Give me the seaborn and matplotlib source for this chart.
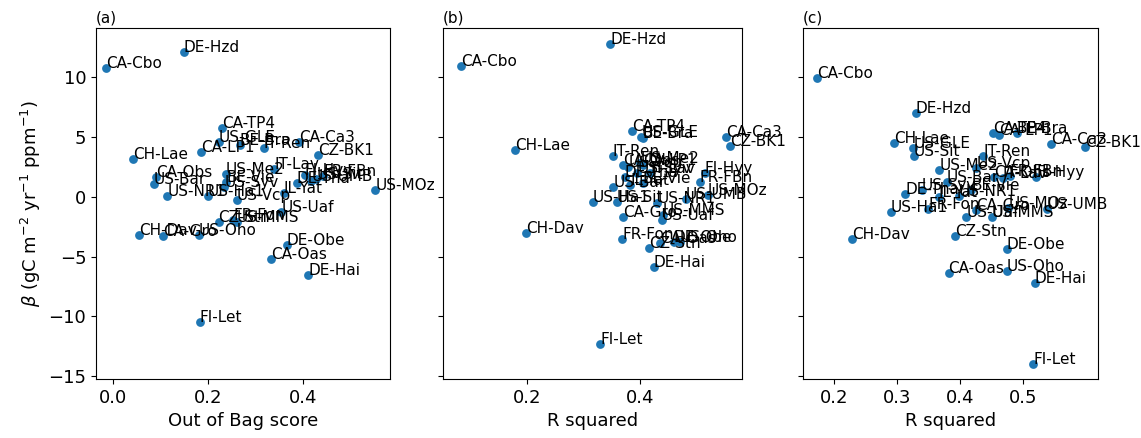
import numpy as np
import pandas as pd
import matplotlib
matplotlib.use("Agg")
import matplotlib.pyplot as plt
import seaborn as sns

sites = ["CA-Cbo", "DE-Hzd", "CA-TP4", "US-GLE", "BE-Bra", "IT-Ren", "CA-Ca3",
         "CZ-BK1", "CA-LP1", "CH-Lae", "CA-Obs", "US-Bar", "US-NR1", "US-Me2",
         "IT-Lav", "FI-Hyy", "FR-FBn", "DE-Tha", "US-UMB", "US-Sit", "BE-Vie",
         "US-Syv", "US-Ha1", "US-Vcp", "IL-Yat", "US-MOz", "US-Uaf", "CZ-Stn",
         "FR-Fon", "US-MMS", "CH-Dav", "CA-Gro", "US-Oho", "DE-Obe", "CA-Oas",
         "DE-Hai", "FI-Let"]

# (a) random forest out-of-bag score vs beta
oob_score = [-0.015, 0.149, 0.229, 0.222, 0.267, 0.317, 0.392,
             0.432, 0.185, 0.042, 0.090, 0.086, 0.114, 0.237,
             0.339, 0.404, 0.442, 0.387, 0.417, 0.428, 0.238,
             0.234, 0.199, 0.260, 0.359, 0.552, 0.354, 0.222,
             0.253, 0.260, 0.055, 0.106, 0.180, 0.366, 0.333,
             0.411, 0.182]
beta_a = [10.77, 12.16, 5.75, 4.57, 4.35, 4.07, 4.58,
          3.51, 3.77, 3.21, 1.70, 1.06, 0.08, 1.92,
          2.32, 1.84, 1.76, 1.17, 1.34, 1.50, 1.26,
          0.84, 0.08, -0.25, 0.31, 0.59, -1.23, -2.12,
          -1.90, -2.10, -3.18, -3.26, -3.18, -4.02, -5.19,
          -6.53, -10.49]

# (b) R squared vs beta
r2_b = [0.083, 0.347, 0.385, 0.402, 0.404, 0.351, 0.552,
        0.559, 0.405, 0.179, 0.370, 0.352, 0.430, 0.400,
        0.418, 0.514, 0.505, 0.373, 0.481, 0.359, 0.404,
        0.395, 0.316, 0.379, 0.382, 0.520, 0.438, 0.415,
        0.368, 0.440, 0.198, 0.370, 0.470, 0.459, 0.435,
        0.424, 0.329]
beta_b = [10.96, 12.80, 5.55, 5.05, 4.90, 3.43, 5.05,
          4.30, 2.68, 3.93, 2.68, 0.84, -0.50, 2.85,
          2.00, 1.98, 1.28, 1.67, -0.20, -0.42, 1.17,
          2.00, -0.39, 2.51, 1.00, 0.17, -1.92, -4.30,
          -3.51, -1.50, -3.04, -1.70, -3.74, -3.74, -3.82,
          -5.83, -12.33]

# (c) R squared vs beta
r2_c = [0.173, 0.330, 0.452, 0.326, 0.490, 0.437, 0.544,
        0.599, 0.462, 0.295, 0.454, 0.379, 0.398, 0.367,
        0.468, 0.521, 0.479, 0.313, 0.538, 0.327, 0.418,
        0.339, 0.290, 0.426, 0.366, 0.477, 0.410, 0.392,
        0.350, 0.451, 0.229, 0.426, 0.474, 0.474, 0.382,
        0.519, 0.516]
beta_c = [9.98, 7.05, 5.33, 4.07, 5.33, 3.46, 4.44,
          4.21, 5.19, 4.55, 1.70, 1.28, 0.08, 2.26,
          1.55, 1.70, 1.75, 0.22, -1.03, 3.46, 0.59,
          0.59, -1.28, 2.40, 0.03, -0.95, -1.70, -3.26,
          -1.00, -1.70, -3.51, -1.09, -6.17, -4.35, -6.39,
          -7.17, -13.97]

panels = [
    ("(a)", "Out of Bag score", oob_score, beta_a, (-0.036, 0.583), [0.0, 0.2, 0.4]),
    ("(b)", "R squared", r2_b, beta_b, (0.051, 0.580), [0.2, 0.4]),
    ("(c)", "R squared", r2_c, beta_c, (0.151, 0.619), [0.2, 0.3, 0.4, 0.5]),
]

W, H = 1141, 438
fig = plt.figure(figsize=(W / 100, H / 100), dpi=100)
edges = [(96, 390), (443, 742), (803, 1098)]
top, bottom = 28, 379

axes = []
for i, (x0, x1) in enumerate(edges):
    rect = [x0 / W, 1 - bottom / H, (x1 - x0) / W, (bottom - top) / H]
    ax = fig.add_axes(rect, sharey=axes[0] if axes else None)
    axes.append(ax)

for ax, (tag, xlabel, xs, ys, xlim, xticks) in zip(axes, panels):
    df = pd.DataFrame({"site": sites, "x": xs, "beta": ys})
    sns.scatterplot(data=df, x="x", y="beta", ax=ax, color="#1f77b4",
                    s=40, linewidth=0, zorder=3)
    for name, xv, yv in zip(df["site"], df["x"], df["beta"]):
        ax.text(xv, yv, name, fontsize=11, color="black", zorder=4)
    ax.set_xlim(*xlim)
    ax.set_xticks(xticks)
    ax.set_ylim(-15.23, 14.14)
    ax.set_xlabel(xlabel, fontsize=13)
    ax.set_ylabel("")
    ax.set_title(tag, loc="left", fontsize=11, pad=4)
    ax.tick_params(labelsize=13)

axes[0].set_yticks([-15, -10, -5, 0, 5, 10])
axes[0].set_ylabel(r"$\beta$ (gC m$^{-2}$ yr$^{-1}$ ppm$^{-1}$)", fontsize=13)
for ax in axes[1:]:
    ax.tick_params(labelleft=False)

fig.savefig("out.png", dpi=100)
